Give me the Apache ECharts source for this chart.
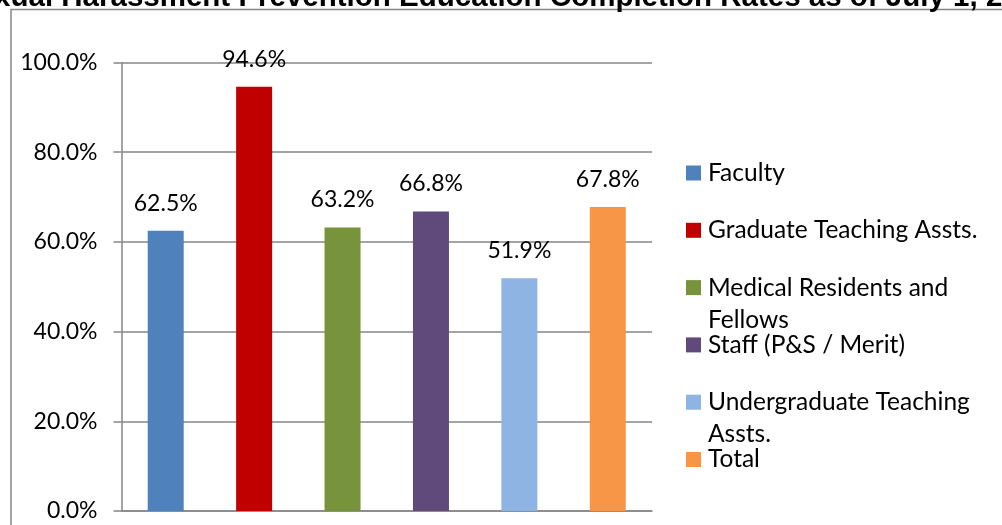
<!doctype html>
<html lang="en">
<head>
<meta charset="utf-8">
<title>Completion Rates</title>
<style>
  html, body { margin: 0; padding: 0; background: #fff; }
  #mainChart { width: 1002px; height: 525px; }
</style>
</head>
<body>
<div id="mainChart"></div>
<script src="https://cdn.jsdelivr.net/npm/echarts@6/dist/echarts.min.js"></script>
<script>
var titleText = 'Sexual Harassment Prevention Education Completion Rates as of July 1, 2';
var categories = ['Faculty', 'Graduate Teaching Assts.', 'Medical Residents and Fellows',
  'Staff (P&S / Merit)', 'Undergraduate Teaching Assts.', 'Total'];
var values = [62.5, 94.6, 63.2, 66.8, 51.9, 67.8];
var colors = ['#4F81BD', '#C00000', '#77933C', '#604A7B', '#8EB4E3', '#F79646'];
var yTicks = [0, 20, 40, 60, 80, 100];

// how the legend wraps the long names
var wrapped = {
  'Medical Residents and Fellows': 'Medical Residents and\nFellows',
  'Undergraduate Teaching Assts.': 'Undergraduate Teaching\nAssts.'
};

var font = 'Lato, "Open Sans", sans-serif';
var myChart = echarts.init(document.getElementById('mainChart'));

var series = [];
var legends = [];
for (var i = 0; i < categories.length; i++) {
  var d = categories.map(function () { return '-'; });
  d[i] = values[i];
  series.push({
    name: categories[i],
    type: 'bar',
    data: d,
    barWidth: 36,
    barGap: '-100%',
    itemStyle: { color: colors[i] },
    label: {
      show: true,
      position: 'top',
      distance: 16,
      color: '#000',
      fontFamily: font,
      fontSize: 23,
      formatter: function (p) { return p.value.toFixed(1) + '%'; }
    },
    animation: false
  });
  // one legend per entry, first line of each lines up with its square
  legends.push({
    data: [categories[i]],
    left: 686,
    top: 173 + i * 57.3 - 48,
    orient: 'vertical',
    padding: 0,
    itemWidth: 15,
    itemHeight: 15,
    icon: 'rect',
    selectedMode: false,
    formatter: function (name) {
      return ' \n' + (wrapped[name] || name) + (wrapped[name] ? '' : '\n ');
    },
    textStyle: {
      color: '#000',
      fontFamily: font,
      fontSize: 24.5,
      lineHeight: 32,
      padding: [0, 0, 0, 2]
    }
  });
}

var option = {
  backgroundColor: '#fff',
  animation: false,
  graphic: [
    {
      type: 'rect',
      shape: { x: 11, y: 9.5, width: 1200, height: 700 },
      style: { fill: 'none', stroke: '#868686', lineWidth: 1.5 },
      silent: true
    },
    {
      type: 'text',
      x: -42,
      y: 13,
      style: {
        text: titleText,
        font: 'bold 29.5px "Liberation Sans", Arial, sans-serif',
        fill: '#000',
        verticalAlign: 'bottom'
      },
      silent: true
    }
  ],
  legend: legends,
  grid: { left: 121.5, right: 350, top: 62.5, bottom: 14 },
  xAxis: {
    type: 'category',
    data: categories,
    axisLine: { lineStyle: { color: '#868686', width: 1.5 } },
    axisTick: { show: false },
    axisLabel: { show: false }
  },
  yAxis: {
    type: 'value',
    min: yTicks[0],
    max: yTicks[yTicks.length - 1],
    interval: 20,
    axisLine: { show: true, lineStyle: { color: '#868686', width: 1.5 } },
    axisTick: { show: true, length: 8, lineStyle: { color: '#868686', width: 1.5 } },
    splitLine: { lineStyle: { color: '#868686', width: 1.5 } },
    axisLabel: {
      color: '#000',
      fontFamily: font,
      fontSize: 23,
      margin: 24,
      formatter: function (v) { return v.toFixed(1) + '%'; }
    }
  },
  series: series
};

myChart.setOption(option);
</script>
</body>
</html>
